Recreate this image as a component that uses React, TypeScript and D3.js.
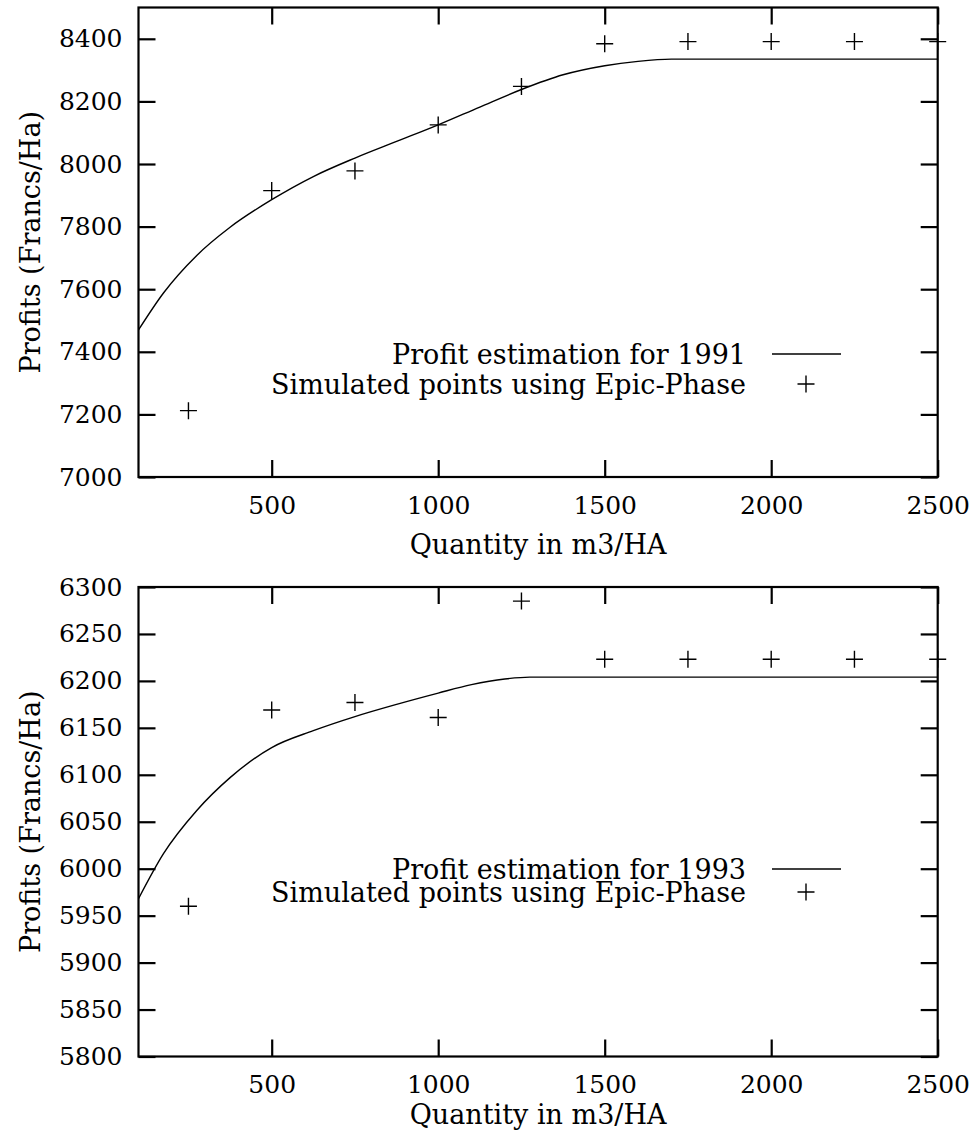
import React, { useRef, useEffect } from 'react';
import { select, scaleLinear, line, curveMonotoneX, axisLeft, axisRight, axisBottom, axisTop } from 'd3';

// simulated points (Epic-Phase)
const simQty = [250, 500, 750, 1000, 1250, 1500, 1750, 2000, 2250, 2500];
const sim1991 = [7212, 7915, 7978, 8125, 8248, 8384, 8391, 8391, 8391, 8391];
const sim1993 = [5960, 6169, 6177, 6161, 6285, 6223, 6223, 6223, 6223, 6223];

// fitted profit curves
const fit1991Qty = [100, 175, 275, 375, 500, 625, 750, 875, 1000, 1125, 1250, 1375, 1500, 1600, 1700, 1800, 2000, 2250, 2500];
const fit1991 = [7470, 7588, 7708, 7798, 7886, 7960, 8019, 8072, 8125, 8182, 8238, 8285, 8314, 8328, 8335, 8335, 8335, 8335, 8335];
const fit1993Qty = [100, 175, 275, 375, 500, 625, 750, 875, 1000, 1100, 1200, 1275, 1500, 2000, 2500];
const fit1993 = [5968, 6016, 6062, 6097, 6129, 6147, 6162, 6175, 6187, 6196, 6202, 6204, 6204, 6204, 6204];

const xTicks = [500, 1000, 1500, 2000, 2500];
const yTicks1991 = [7000, 7200, 7400, 7600, 7800, 8000, 8200, 8400];
const yTicks1993 = [5800, 5850, 5900, 5950, 6000, 6050, 6100, 6150, 6200, 6250, 6300];

const FONT = '"DejaVu Serif", "Liberation Serif", serif';
const TICK_SIZE = 25;
const TEXT_SIZE = 27;
const plotLeft = 138.5;
const plotRight = 937.7;
const plotHeight = 469.5;

const Panel = ({ top, yDomain, yTicks, fitQty, fitValues, simValues, year, legendY, legendGap, titleY }) => {
  const gRef = useRef(null);

  useEffect(() => {
    const g = select(gRef.current);
    g.selectAll('*').remove();

    const x = scaleLinear().domain([100, 2500]).range([plotLeft, plotRight]);
    const y = scaleLinear().domain(yDomain).range([top + plotHeight, top]);

    const styleAxis = (sel) => {
      sel.select('.domain').remove();
      sel.attr('font-family', FONT).attr('font-size', TICK_SIZE);
      sel.selectAll('.tick line').attr('stroke', '#000').attr('stroke-width', 2.2);
      sel.selectAll('.tick text').attr('fill', '#000');
    };

    g.append('g')
      .attr('transform', `translate(${plotLeft},0)`)
      .call(axisLeft(y).tickValues(yTicks).tickSize(-17).tickPadding(16).tickFormat(d => d))
      .call(styleAxis);
    g.append('g')
      .attr('transform', `translate(${plotRight},0)`)
      .call(axisRight(y).tickValues(yTicks).tickSize(-17).tickFormat(() => ''))
      .call(styleAxis);
    g.append('g')
      .attr('transform', `translate(0,${top + plotHeight})`)
      .call(axisBottom(x).tickValues(xTicks).tickSize(-17).tickPadding(19).tickFormat(d => d))
      .call(styleAxis);
    g.append('g')
      .attr('transform', `translate(0,${top})`)
      .call(axisTop(x).tickValues(xTicks).tickSize(-17).tickFormat(() => ''))
      .call(styleAxis);

    g.append('rect')
      .attr('x', plotLeft)
      .attr('y', top)
      .attr('width', plotRight - plotLeft)
      .attr('height', plotHeight)
      .attr('fill', 'none')
      .attr('stroke', '#000')
      .attr('stroke-width', 2.2);

    const fitLine = line()
      .x(d => x(d[0]))
      .y(d => y(d[1]))
      .curve(curveMonotoneX);

    g.append('path')
      .datum(fitQty.map((q, i) => [q, fitValues[i]]))
      .attr('d', fitLine)
      .attr('fill', 'none')
      .attr('stroke', '#000')
      .attr('stroke-width', 1.4);

    const plus = 'M-8.5,0H8.5M0,-8.5V8.5';
    g.selectAll('.pt')
      .data(simQty.map((q, i) => [q, simValues[i]]))
      .join('path')
      .attr('class', 'pt')
      .attr('transform', d => `translate(${x(d[0])},${y(d[1])})`)
      .attr('d', plus)
      .attr('stroke', '#000')
      .attr('stroke-width', 1.4);

    // axis titles
    g.append('text')
      .attr('x', (plotLeft + plotRight) / 2)
      .attr('y', titleY)
      .attr('text-anchor', 'middle')
      .attr('font-family', FONT)
      .attr('font-size', TEXT_SIZE)
      .text('Quantity in m3/HA');
    g.append('text')
      .attr('transform', `translate(40,${top + plotHeight / 2}) rotate(-90)`)
      .attr('text-anchor', 'middle')
      .attr('font-family', FONT)
      .attr('font-size', TEXT_SIZE)
      .text('Profits (Francs/Ha)');

    // key
    const entries = [`Profit estimation for ${year}`, 'Simulated points using Epic-Phase'];
    entries.forEach((label, i) => {
      g.append('text')
        .attr('x', 746)
        .attr('y', legendY + i * legendGap + 10)
        .attr('text-anchor', 'end')
        .attr('font-family', FONT)
        .attr('font-size', TEXT_SIZE)
        .text(label);
    });
    g.append('line')
      .attr('x1', 772)
      .attr('x2', 841)
      .attr('y1', legendY)
      .attr('y2', legendY)
      .attr('stroke', '#000')
      .attr('stroke-width', 1.4);
    g.append('path')
      .attr('transform', `translate(806,${legendY + legendGap})`)
      .attr('d', plus)
      .attr('stroke', '#000')
      .attr('stroke-width', 1.4);
  }, [top, yDomain, yTicks, fitQty, fitValues, simValues, year, legendY, legendGap, titleY]);

  return <g ref={gRef} />;
};

const App = () => {
  return (
    <svg
      width={974}
      height={1142}
      style={{ position: 'absolute', left: 0, top: 0, background: '#fff' }}
    >
      <Panel
        top={7.5}
        yDomain={[7000, 8500]}
        yTicks={yTicks1991}
        fitQty={fit1991Qty}
        fitValues={fit1991}
        simValues={sim1991}
        year={1991}
        legendY={354}
        legendGap={30}
        titleY={554}
      />
      <Panel
        top={587}
        yDomain={[5800, 6300]}
        yTicks={yTicks1993}
        fitQty={fit1993Qty}
        fitValues={fit1993}
        simValues={sim1993}
        year={1993}
        legendY={869}
        legendGap={23}
        titleY={1124}
      />
    </svg>
  );
};

export default App;
